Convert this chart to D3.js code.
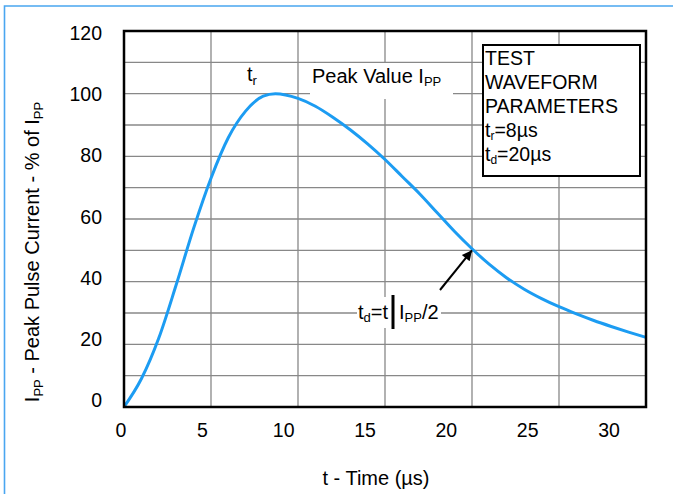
<!DOCTYPE html>
<html>
<head>
<meta charset="utf-8">
<script src="https://cdn.jsdelivr.net/npm/d3@7"></script>
<style>
  body { margin: 0; background: #fff; }
  svg { display: block; font-family: Arial, "Liberation Sans", sans-serif; }
</style>
</head>
<body>
<div id="chart"></div>
<script>
// waveform (t in us, current in % of Ipp)
const times    = [0, 1, 2, 3, 4, 5, 6, 7, 8, 8.7, 10, 11, 12, 13, 14, 15, 16, 17, 18, 19, 20, 21, 22, 23, 24, 25, 26, 27, 28, 29, 30];
const currents = [0, 9, 22, 39, 57, 73, 86, 94.5, 99.2, 100, 98.5, 96, 92.5, 88.5, 84, 79, 73.5, 68, 62, 56, 50.5, 45.5, 41.2, 37.6, 34.6, 32, 29.7, 27.6, 25.7, 23.9, 22.2];

const xTicks = [0, 5, 10, 15, 20, 25, 30];
const yTicks = [0, 20, 40, 60, 80, 100, 120];
const xGrid = d3.range(0, 31, 5);
const yGrid = d3.range(0, 121, 10);

const legendLines = ["TEST", "WAVEFORM", "PARAMETERS"];
const tr = 8, td = 20;

const width = 673, height = 494;
const plot = { left: 124, right: 646, top: 31, bottom: 407 };

const svg = d3.select("#chart").append("svg")
    .attr("width", width)
    .attr("height", height);

svg.append("rect").attr("width", width).attr("height", height).attr("fill", "#fff");

// page frame
svg.append("path")
    .attr("d", `M${width},6 H4.5 V${height}`)
    .attr("fill", "none")
    .attr("stroke", "#4aa6f0")
    .attr("stroke-width", 1.6);

const x = d3.scaleLinear().domain([0, 30]).range([plot.left, plot.right]);
const y = d3.scaleLinear().domain([0, 120]).range([plot.bottom, plot.top]);
// tick labels in the original sit slightly off the grid
const xLab = d3.scaleLinear().domain([0, 30]).range([121, 609]);
const yLab = d3.scaleLinear().domain([0, 120]).range([400, 33]);

// grid
const grid = svg.append("g").attr("stroke", "#888").attr("stroke-width", 1.3);
grid.selectAll(".vg").data(xGrid).enter().append("line")
    .attr("x1", d => x(d)).attr("x2", d => x(d))
    .attr("y1", plot.top).attr("y2", plot.bottom);
grid.selectAll(".hg").data(yGrid).enter().append("line")
    .attr("x1", plot.left).attr("x2", plot.right)
    .attr("y1", d => y(d)).attr("y2", d => y(d));

// white patches behind the annotations
svg.append("rect").attr("x", 310).attr("y", 63).attr("width", 143).attr("height", 36).attr("fill", "#fff");
svg.append("rect").attr("x", 357).attr("y", 297).attr("width", 84).attr("height", 31).attr("fill", "#fff");

// curve
const line = d3.line()
    .x((d, i) => x(times[i]))
    .y(d => y(d))
    .curve(d3.curveMonotoneX);

svg.append("path")
    .datum(currents)
    .attr("d", line)
    .attr("fill", "none")
    .attr("stroke", "#1c9cf2")
    .attr("stroke-width", 3);

// plot border
svg.append("rect")
    .attr("x", plot.left).attr("y", plot.top)
    .attr("width", plot.right - plot.left).attr("height", plot.bottom - plot.top)
    .attr("fill", "none").attr("stroke", "#000").attr("stroke-width", 2.5);

// tick labels
svg.selectAll(".xt").data(xTicks).enter().append("text")
    .attr("x", d => xLab(d)).attr("y", 437)
    .attr("text-anchor", "middle")
    .attr("font-size", 19.5)
    .text(d => d);

svg.selectAll(".yt").data(yTicks).enter().append("text")
    .attr("x", 102).attr("y", d => yLab(d) + 7)
    .attr("text-anchor", "end")
    .attr("font-size", 19.5)
    .text(d => d);

// axis titles
svg.append("text")
    .attr("x", 376).attr("y", 485)
    .attr("text-anchor", "middle")
    .attr("font-size", 20)
    .text("t - Time (\u00b5s)");

const yt = svg.append("text")
    .attr("transform", "translate(39,252) rotate(-90)")
    .attr("text-anchor", "middle")
    .attr("font-size", 20);
yt.append("tspan").text("I");
yt.append("tspan").attr("font-size", 13).attr("dy", 4).text("PP");
yt.append("tspan").attr("dy", -4).text(" - Peak Pulse Current - % of I");
yt.append("tspan").attr("font-size", 13).attr("dy", 4).text("PP");

// annotations
const trT = svg.append("text").attr("x", 247).attr("y", 81).attr("font-size", 20);
trT.append("tspan").text("t");
trT.append("tspan").attr("font-size", 13).attr("dy", 4).text("r");

const pk = svg.append("text").attr("x", 312).attr("y", 83).attr("font-size", 20);
pk.append("tspan").text("Peak Value I");
pk.append("tspan").attr("font-size", 13).attr("dy", 3).text("PP");

const tdT = svg.append("text").attr("x", 358).attr("y", 319).attr("font-size", 20);
tdT.append("tspan").text("t");
tdT.append("tspan").attr("font-size", 13).attr("dy", 3).text("d");
tdT.append("tspan").attr("dy", -3).text("=t");

svg.append("line")
    .attr("x1", 393).attr("x2", 393).attr("y1", 295).attr("y2", 329)
    .attr("stroke", "#000").attr("stroke-width", 3);

const half = svg.append("text").attr("x", 399).attr("y", 319).attr("font-size", 20);
half.append("tspan").text("I");
half.append("tspan").attr("font-size", 13).attr("dy", 3).text("PP");
half.append("tspan").attr("dy", -3).text("/2");

// arrow to the half-value point
svg.append("defs").append("marker")
    .attr("id", "head")
    .attr("viewBox", "0 0 10 10")
    .attr("refX", 10).attr("refY", 5)
    .attr("markerWidth", 7).attr("markerHeight", 5)
    .attr("orient", "auto")
    .append("path").attr("d", "M0,0 L10,5 L0,10 z").attr("fill", "#000");

const i20 = times.indexOf(td);
svg.append("line")
    .attr("x1", 440).attr("y1", 290)
    .attr("x2", x(times[i20])).attr("y2", y(50))
    .attr("stroke", "#000").attr("stroke-width", 2)
    .attr("marker-end", "url(#head)");

// parameter box
svg.append("rect")
    .attr("x", 483).attr("y", 45).attr("width", 157).attr("height", 131)
    .attr("fill", "#fff").attr("stroke", "#000").attr("stroke-width", 2);

svg.selectAll(".lg").data(legendLines).enter().append("text")
    .attr("x", 485).attr("y", (d, i) => 65 + i * 24)
    .attr("font-size", 19.5)
    .text(d => d);

const p1 = svg.append("text").attr("x", 485).attr("y", 137).attr("font-size", 19.5);
p1.append("tspan").text("t");
p1.append("tspan").attr("font-size", 12).attr("dy", 3).text("r");
p1.append("tspan").attr("dy", -3).text("=" + tr + "\u00b5s");

const p2 = svg.append("text").attr("x", 485).attr("y", 161).attr("font-size", 19.5);
p2.append("tspan").text("t");
p2.append("tspan").attr("font-size", 12).attr("dy", 3).text("d");
p2.append("tspan").attr("dy", -3).text("=" + td + "\u00b5s");
</script>
</body>
</html>
